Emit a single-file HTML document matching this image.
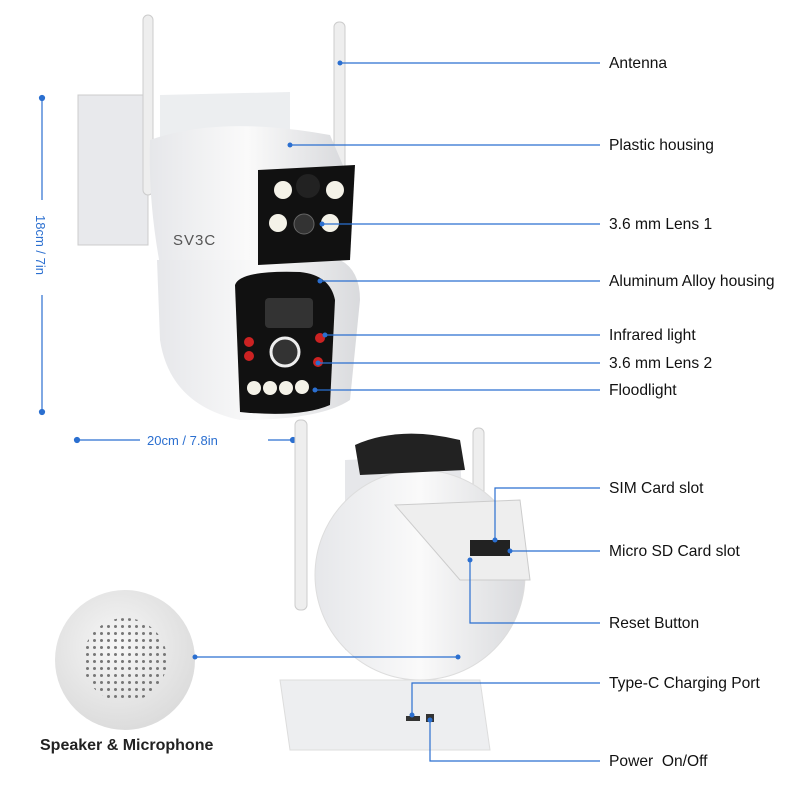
<!DOCTYPE html>
<html><head><meta charset="utf-8"><style>
html,body{margin:0;padding:0;background:#fff;}
svg{display:block;font-family:"Liberation Sans",sans-serif;}
</style></head><body>
<svg width="800" height="800" viewBox="0 0 800 800" xmlns="http://www.w3.org/2000/svg">
<defs>
<linearGradient id="g1" x1="0" x2="1"><stop offset="0" stop-color="#e6e7ea"/><stop offset="0.5" stop-color="#fafafa"/><stop offset="1" stop-color="#d9dadd"/></linearGradient>
<radialGradient id="sp" cx="0.45" cy="0.4" r="0.6"><stop offset="0" stop-color="#f7f7f7"/><stop offset="1" stop-color="#dcdcdc"/></radialGradient>
<pattern id="dots" width="7" height="7" patternUnits="userSpaceOnUse"><circle cx="3.5" cy="3.5" r="1.5" fill="#777"/></pattern>
<clipPath id="cp"><circle cx="125" cy="660" r="42"/></clipPath>
</defs>
<rect x="78" y="95" width="70" height="150" fill="#e8e9ec" stroke="#ccc"/>
<rect x="143" y="15" width="10" height="180" rx="5" fill="#eee" stroke="#ccc"/>
<rect x="334" y="22" width="11" height="150" rx="5" fill="#eee" stroke="#ccc"/>
<path d="M160 95 L290 92 L290 135 L160 140 Z" fill="#eceef0"/>
<path d="M150 140 Q220 115 330 135 L345 170 L340 270 L270 270 L240 280 L160 265 Q148 200 150 140Z" fill="url(#g1)"/>
<path d="M157 260 L340 260 Q360 270 360 300 L350 400 Q320 420 240 420 Q170 405 160 340 Z" fill="url(#g1)"/>
<path d="M258 170 L355 165 L350 260 L258 265 Z" fill="#111"/>
<circle cx="283" cy="190" r="9" fill="#f4f2e8"/><circle cx="335" cy="190" r="9" fill="#f4f2e8"/>
<circle cx="278" cy="223" r="9" fill="#f4f2e8"/><circle cx="330" cy="223" r="9" fill="#f4f2e8"/>
<circle cx="308" cy="186" r="12" fill="#222"/><circle cx="304" cy="224" r="10" fill="#333" stroke="#666"/>
<text x="173" y="245" font-size="15" fill="#555" letter-spacing="1">SV3C</text>
<path d="M235 285 Q240 270 300 272 Q330 275 335 300 L330 405 Q300 418 240 412 Z" fill="#111"/>
<rect x="265" y="298" width="48" height="30" rx="4" fill="#333"/>
<circle cx="285" cy="352" r="14" fill="#333" stroke="#eee" stroke-width="3"/>
<circle cx="249" cy="342" r="5" fill="#c22"/><circle cx="249" cy="356" r="5" fill="#c22"/>
<circle cx="320" cy="338" r="5" fill="#c22"/><circle cx="318" cy="362" r="5" fill="#c22"/>
<circle cx="254" cy="388" r="7" fill="#f4f2e8"/><circle cx="270" cy="388" r="7" fill="#f4f2e8"/><circle cx="286" cy="388" r="7" fill="#f4f2e8"/><circle cx="302" cy="387" r="7" fill="#f4f2e8"/>
<g stroke="#2b6fd0" stroke-width="1.2" fill="#2b6fd0">
<line x1="42" y1="98" x2="42" y2="412"/><circle cx="42" cy="98" r="2.5"/><circle cx="42" cy="412" r="2.5"/>
<line x1="77" y1="440" x2="140" y2="440"/><line x1="268" y1="440" x2="293" y2="440"/><circle cx="77" cy="440" r="2.5"/><circle cx="293" cy="440" r="2.5"/>
</g>
<rect x="34" y="200" width="16" height="95" fill="#fff"/>
<text transform="translate(36,215) rotate(90)" font-size="13" fill="#2b6fd0">18cm / 7in</text>
<text x="147" y="445" font-size="13" fill="#2b6fd0">20cm / 7.8in</text>
<rect x="295" y="420" width="12" height="190" rx="5" fill="#eee" stroke="#ccc"/>
<rect x="473" y="428" width="11" height="100" rx="5" fill="#eee" stroke="#ccc"/>
<path d="M345 460 L460 455 L470 650 L345 650 Z" fill="#e6e7ea"/>
<circle cx="420" cy="575" r="105" fill="url(#g1)" stroke="#ddd"/>
<path d="M355 445 Q400 425 460 440 L465 470 L360 475Z" fill="#222"/>
<path d="M395 505 L520 500 L530 580 L460 580 Z" fill="#eee" stroke="#ccc"/>
<rect x="470" y="540" width="40" height="16" fill="#222"/>
<path d="M280 680 L480 680 L490 750 L290 750 Z" fill="#edeef0" stroke="#ddd"/>
<rect x="406" y="716" width="14" height="5" fill="#333"/><rect x="426" y="714" width="8" height="8" fill="#333"/>
<circle cx="125" cy="660" r="70" fill="url(#sp)"/>
<rect x="80" y="615" width="90" height="90" fill="url(#dots)" clip-path="url(#cp)"/>
<text x="40" y="750" font-size="16" font-weight="bold" fill="#222">Speaker &amp; Microphone</text>
<g stroke="#2b6fd0" stroke-width="1.2" fill="none">
<polyline points="340,63 600,63"/><polyline points="290,145 600,145"/><polyline points="322,224 600,224"/>
<polyline points="320,281 600,281"/><polyline points="325,335 600,335"/><polyline points="318,363 600,363"/>
<polyline points="315,390 600,390"/>
<polyline points="495,540 495,488 600,488"/><polyline points="510,551 600,551"/>
<polyline points="470,560 470,623 600,623"/><polyline points="412,715 412,683 600,683"/>
<polyline points="430,720 430,761 600,761"/><polyline points="195,657 458,657"/>
</g>
<g fill="#2b6fd0">
<circle cx="340" cy="63" r="2.5"/><circle cx="290" cy="145" r="2.5"/><circle cx="322" cy="224" r="2.5"/>
<circle cx="320" cy="281" r="2.5"/><circle cx="325" cy="335" r="2.5"/><circle cx="318" cy="363" r="2.5"/>
<circle cx="315" cy="390" r="2.5"/><circle cx="495" cy="540" r="2.5"/><circle cx="510" cy="551" r="2.5"/>
<circle cx="470" cy="560" r="2.5"/><circle cx="412" cy="715" r="2.5"/><circle cx="430" cy="720" r="2.5"/>
<circle cx="195" cy="657" r="2.5"/><circle cx="458" cy="657" r="2.5"/>
</g>
<g font-size="15.6" fill="#111">
<text x="609" y="68">Antenna</text><text x="609" y="150">Plastic housing</text>
<text x="609" y="229">3.6 mm Lens 1</text><text x="609" y="286">Aluminum Alloy housing</text>
<text x="609" y="340">Infrared light</text><text x="609" y="368">3.6 mm Lens 2</text>
<text x="609" y="395">Floodlight</text><text x="609" y="493">SIM Card slot</text>
<text x="609" y="556">Micro SD Card slot</text><text x="609" y="628">Reset Button</text>
<text x="609" y="688">Type-C Charging Port</text><text x="609" y="766" xml:space="preserve">Power  On/Off</text>
</g>
</svg>
</body></html>
